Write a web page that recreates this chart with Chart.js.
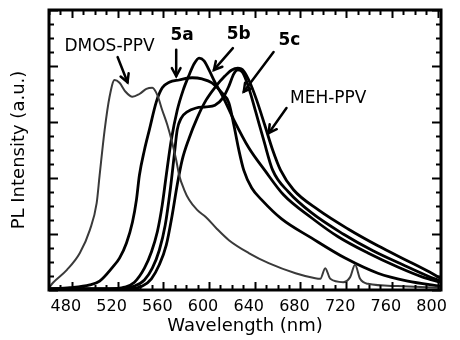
<!DOCTYPE html>
<html>
<head>
<meta charset="utf-8">
<script src="https://cdn.jsdelivr.net/npm/chart.js@4/dist/chart.umd.min.js"></script>
<style>
  html, body { margin: 0; padding: 0; background: #fff; }
  #wrap { width: 460px; height: 340px; }
</style>
</head>
<body>
<div id="wrap"><canvas id="c" width="460" height="340"></canvas></div>
<script>
// ---- data ----
const xMajorTicks = [480, 520, 560, 600, 640, 680, 720, 760, 800];
const xMinorTicks = [460, 470, 490, 500, 510, 530, 540, 550, 570, 580, 590, 610, 620, 630, 650, 660, 670, 690, 700, 710, 730, 740, 750, 770, 780, 790];
const yMajorTicks = [0, 1, 2, 3, 4, 5];
const yMinorTicks = [0.25, 0.5, 0.75, 1.25, 1.5, 1.75, 2.25, 2.5, 2.75, 3.25, 3.5, 3.75, 4.25, 4.5, 4.75];

const dmosX = [460.0, 463.5, 475.7, 487.0, 495.7, 501.7, 504.3, 508.7, 513.0, 517.4, 521.7, 527.0, 533.0, 539.1, 545.2, 550.4, 554.8, 559.1, 563.5, 567.8, 571.3, 573.9, 578.3, 582.6, 589.6, 597.4, 607.0, 617.4, 634.8, 652.2, 675.7, 693.0, 697.4, 701.7, 706.1, 717.4, 723.5, 727.8, 732.2, 739.1, 765.2, 802.6];
const dmosY = [0.04, 0.13, 0.36, 0.66, 1.07, 1.55, 2.05, 2.86, 3.45, 3.75, 3.70, 3.54, 3.45, 3.50, 3.59, 3.61, 3.48, 3.21, 2.95, 2.63, 2.32, 2.05, 1.79, 1.61, 1.43, 1.30, 1.09, 0.89, 0.66, 0.48, 0.30, 0.21, 0.20, 0.39, 0.20, 0.14, 0.23, 0.45, 0.20, 0.11, 0.07, 0.04];

const s5aX = [460.0, 478.3, 495.7, 504.3, 515.7, 521.7, 527.8, 533.0, 536.5, 539.1, 543.5, 547.8, 553.9, 559.1, 565.2, 573.9, 585.2, 593.9, 602.6, 611.3, 617.4, 621.7, 626.1, 630.4, 637.4, 646.1, 663.5, 689.6, 719.1, 747.8, 773.9, 802.6];
const s5aY = [0.02, 0.04, 0.09, 0.16, 0.41, 0.57, 0.84, 1.21, 1.61, 2.05, 2.50, 2.86, 3.36, 3.61, 3.71, 3.75, 3.79, 3.77, 3.70, 3.52, 3.34, 2.95, 2.50, 2.14, 1.82, 1.61, 1.27, 0.93, 0.57, 0.30, 0.16, 0.07];

const s5bX = [460.0, 513.0, 526.1, 534.8, 543.5, 549.6, 554.8, 559.1, 562.6, 567.0, 572.2, 577.4, 582.6, 587.0, 591.3, 595.7, 600.0, 605.2, 612.2, 621.7, 634.8, 648.7, 665.2, 689.6, 713.0, 739.1, 765.2, 787.0, 802.6];
const s5bY = [0.02, 0.02, 0.05, 0.14, 0.39, 0.68, 1.04, 1.52, 2.05, 2.68, 3.21, 3.57, 3.84, 4.04, 4.14, 4.09, 3.93, 3.71, 3.45, 3.04, 2.54, 2.14, 1.70, 1.29, 0.95, 0.66, 0.41, 0.23, 0.14];

const s5cX = [460.0, 521.7, 534.8, 543.5, 550.4, 556.5, 561.7, 566.1, 569.6, 572.2, 575.7, 580.9, 588.7, 597.4, 605.2, 612.2, 617.4, 621.7, 625.2, 629.6, 634.8, 640.9, 647.8, 655.7, 669.6, 689.6, 717.4, 743.5, 769.6, 791.3, 802.6];
const s5cY = [0.02, 0.02, 0.07, 0.18, 0.39, 0.71, 1.16, 1.79, 2.41, 2.86, 3.07, 3.18, 3.25, 3.27, 3.30, 3.43, 3.64, 3.86, 3.93, 3.88, 3.61, 3.18, 2.68, 2.14, 1.75, 1.38, 1.00, 0.70, 0.45, 0.25, 0.16];

const mehX = [460.0, 530.4, 541.7, 549.6, 556.5, 562.6, 567.8, 572.2, 576.5, 582.6, 589.6, 597.4, 606.1, 613.9, 620.0, 625.2, 630.4, 635.7, 641.7, 648.7, 655.7, 662.6, 673.9, 695.7, 721.7, 747.8, 773.9, 793.0, 802.6];
const mehY = [0.02, 0.02, 0.07, 0.20, 0.45, 0.80, 1.34, 1.88, 2.32, 2.71, 3.07, 3.39, 3.64, 3.82, 3.93, 3.96, 3.91, 3.71, 3.39, 2.95, 2.50, 2.14, 1.79, 1.43, 1.09, 0.79, 0.52, 0.32, 0.21];

const seriesNames = ['DMOS-PPV', '5a', '5b', '5c', 'MEH-PPV'];

// ---- annotations (labels + arrows, in data units) ----
const labels = [
  { text: 'DMOS-PPV', x: 513, y: 4.34, bold: false },
  { text: '5a', x: 576.5, y: 4.55, bold: true },
  { text: '5b', x: 626, y: 4.57, bold: true },
  { text: '5c', x: 670.4, y: 4.45, bold: true },
  { text: 'MEH-PPV', x: 704.3, y: 3.41, bold: false }
];
const arrows = [
  { x1: 520, y1: 4.16, x2: 528.7, y2: 3.71 },
  { x1: 571.3, y1: 4.29, x2: 571.3, y2: 3.82 },
  { x1: 620.9, y1: 4.32, x2: 604.3, y2: 3.93 },
  { x1: 656.5, y1: 4.25, x2: 630.4, y2: 3.54 },
  { x1: 667.8, y1: 3.25, x2: 652.2, y2: 2.80 }
];

const FONT = "'DejaVu Sans', sans-serif";

function pts(xs, ys) { return xs.map((x, i) => ({ x: x, y: ys[i] })); }

const framePlugin = {
  id: 'frame',
  afterDatasetsDraw(chart) {
    const ctx = chart.ctx;
    const a = chart.chartArea;
    const xs = chart.scales.x, ys = chart.scales.y;
    ctx.save();
    ctx.strokeStyle = '#000';
    ctx.lineWidth = 2;
    const tick = (v, len, horiz) => {
      if (horiz) {
        const p = Math.round(xs.getPixelForValue(v)) + 0.5;
        ctx.beginPath(); ctx.moveTo(p, a.bottom); ctx.lineTo(p, a.bottom - len); ctx.stroke();
        ctx.beginPath(); ctx.moveTo(p, a.top); ctx.lineTo(p, a.top + len); ctx.stroke();
      } else {
        const p = Math.round(ys.getPixelForValue(v)) + 0.5;
        ctx.beginPath(); ctx.moveTo(a.left, p); ctx.lineTo(a.left + len, p); ctx.stroke();
        ctx.beginPath(); ctx.moveTo(a.right, p); ctx.lineTo(a.right - len, p); ctx.stroke();
      }
    };
    xMajorTicks.forEach(v => tick(v, 8, true));
    xMinorTicks.forEach(v => tick(v, 5, true));
    yMajorTicks.forEach(v => tick(v, 9, false));
    yMinorTicks.forEach(v => tick(v, 5, false));
    ctx.lineWidth = 3;
    ctx.strokeRect(a.left, a.top, a.right - a.left, a.bottom - a.top);
    ctx.lineWidth = 2.5;
    ctx.lineCap = 'round';
    arrows.forEach(ar => {
      const x1 = xs.getPixelForValue(ar.x1), y1 = ys.getPixelForValue(ar.y1);
      const x2 = xs.getPixelForValue(ar.x2), y2 = ys.getPixelForValue(ar.y2);
      ctx.beginPath(); ctx.moveTo(x1, y1); ctx.lineTo(x2, y2); ctx.stroke();
      const ang = Math.atan2(y2 - y1, x2 - x1);
      const h = 9, w = 0.5;
      ctx.beginPath();
      ctx.moveTo(x2 - h * Math.cos(ang - w), y2 - h * Math.sin(ang - w));
      ctx.lineTo(x2, y2);
      ctx.lineTo(x2 - h * Math.cos(ang + w), y2 - h * Math.sin(ang + w));
      ctx.stroke();
    });
    ctx.fillStyle = '#000';
    ctx.textAlign = 'center';
    ctx.textBaseline = 'middle';
    labels.forEach(l => {
      ctx.font = (l.bold ? 'bold 17px ' : '17px ') + FONT;
      ctx.fillText(l.text, xs.getPixelForValue(l.x), ys.getPixelForValue(l.y));
    });
    ctx.restore();
  }
};

const lineStyle = (color, w) => ({
  borderColor: color, borderWidth: w, pointRadius: 0, fill: false,
  cubicInterpolationMode: 'monotone', tension: 0.4
});

new Chart(document.getElementById('c'), {
  type: 'line',
  data: {
    datasets: [
      Object.assign({ label: seriesNames[0], data: pts(dmosX, dmosY) }, lineStyle('#3a3a3a', 2)),
      Object.assign({ label: seriesNames[1], data: pts(s5aX, s5aY) }, lineStyle('#000', 2.8)),
      Object.assign({ label: seriesNames[2], data: pts(s5bX, s5bY) }, lineStyle('#000', 2.8)),
      Object.assign({ label: seriesNames[3], data: pts(s5cX, s5cY) }, lineStyle('#000', 2.8)),
      Object.assign({ label: seriesNames[4], data: pts(mehX, mehY) }, lineStyle('#000', 2.8))
    ]
  },
  options: {
    responsive: false,
    animation: false,
    devicePixelRatio: 1,
    layout: { padding: { top: 10, right: 17, left: 0, bottom: 0 } },
    plugins: { legend: { display: false }, tooltip: { enabled: false } },
    scales: {
      x: {
        type: 'linear', min: 460, max: 803,
        afterBuildTicks: (s) => { s.ticks = xMajorTicks.map(v => ({ value: v })); },
        afterFit: (s) => { s.height = 50; },
        grid: { display: false, drawTicks: false },
        border: { display: false },
        ticks: { autoSkip: false, maxRotation: 0, color: '#000', padding: 7, labelOffset: -6,
                 font: { family: FONT, size: 16 } },
        title: { display: true, text: 'Wavelength (nm)', color: '#000',
                 font: { family: FONT, size: 18 }, padding: { top: 0, bottom: 3 } }
      },
      y: {
        type: 'linear', min: 0, max: 5,
        afterFit: (s) => { s.width = 49; },
        grid: { display: false, drawTicks: false },
        border: { display: false },
        ticks: { display: false },
        title: { display: true, text: 'PL Intensity (a.u.)', color: '#000',
                 font: { family: FONT, size: 18 }, padding: { top: 9, bottom: 0 } }
      }
    }
  },
  plugins: [framePlugin]
});
</script>
</body>
</html>
